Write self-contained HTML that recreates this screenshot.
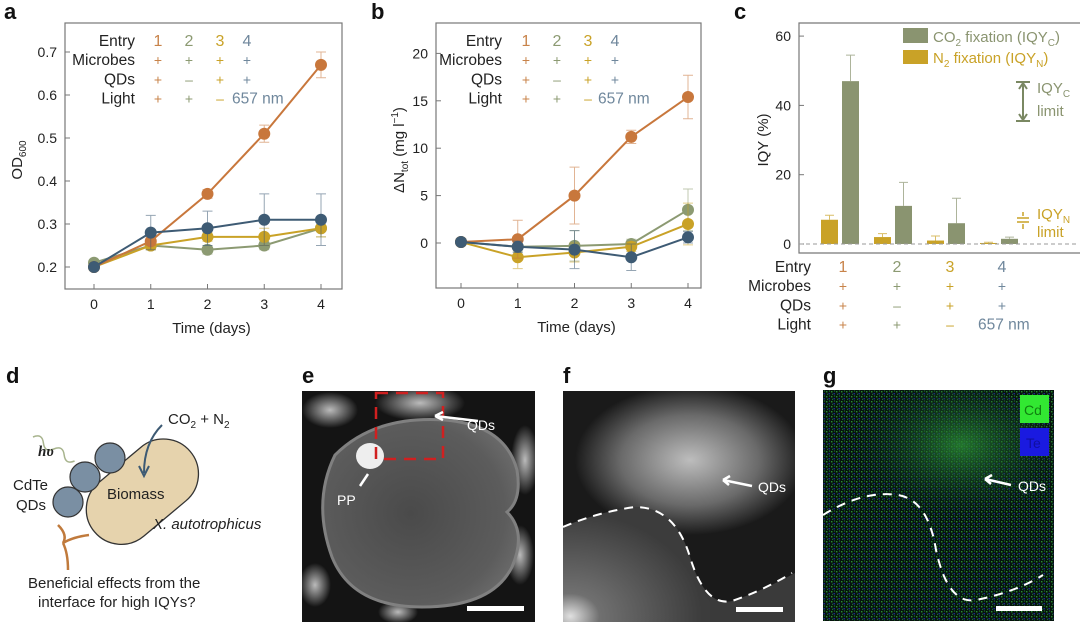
<!DOCTYPE html>
<html><head><meta charset="utf-8"><style>
html,body{margin:0;padding:0;background:#fff;}
svg{display:block;font-family:"Liberation Sans",sans-serif;}
</style></head><body>
<svg id="fig" width="1080" height="623" viewBox="0 0 1080 623" xmlns="http://www.w3.org/2000/svg">
<defs>
<clipPath id="clipE"><rect x="302" y="391" width="233" height="231"/></clipPath>
<clipPath id="clipF"><rect x="563" y="391" width="232" height="231"/></clipPath>
<clipPath id="clipG"><rect x="823" y="390" width="231" height="231"/></clipPath>
<radialGradient id="cellG" cx="0.45" cy="0.5" r="0.6"><stop offset="0" stop-color="#4a4a4a"/><stop offset="0.8" stop-color="#5c5c5c"/><stop offset="1" stop-color="#6a6a6a"/></radialGradient>
<radialGradient id="cloudF" cx="0.5" cy="0.5" r="0.5"><stop offset="0" stop-color="#bdbdbd"/><stop offset="0.6" stop-color="#6a6a6a"/><stop offset="1" stop-color="#1a1a1a"/></radialGradient>
<radialGradient id="cellF" cx="0.05" cy="0.95" r="0.9"><stop offset="0" stop-color="#e0e0e0"/><stop offset="0.22" stop-color="#707070"/><stop offset="1" stop-color="#3c3c3c"/></radialGradient>
<radialGradient id="greenG" cx="0.55" cy="0.4" r="0.5"><stop offset="0" stop-color="#2a8a34" stop-opacity="0.8"/><stop offset="1" stop-color="#0c2a22" stop-opacity="0"/></radialGradient>
<radialGradient id="flake" cx="0.5" cy="0.5" r="0.5"><stop offset="0" stop-color="#bbb"/><stop offset="1" stop-color="#141414"/></radialGradient>
<pattern id="noise" width="5" height="5" patternUnits="userSpaceOnUse"><rect x="1" y="1" width="1.4" height="1.4" fill="#38c040"/><rect x="3.5" y="3" width="1.4" height="1.4" fill="#2a3ad0"/><rect x="2" y="3.8" width="1" height="1" fill="#2db040"/><rect x="4" y="0.5" width="1" height="1" fill="#30b838"/></pattern>
</defs>

<g font-weight="bold" font-size="22" fill="#111">
<text x="4" y="19">a</text>
<text x="371" y="19">b</text>
<text x="734" y="19">c</text>
<text x="6" y="383">d</text>
<text x="302" y="383">e</text>
<text x="563" y="383">f</text>
<text x="823" y="383">g</text>
</g>

<g id="pa"></g>
<g id="pb"></g>
<g id="pc"></g>

<g>
<path d="M33,437 q6,-8 12,0 t12,0 t12,0 t12,0" transform="rotate(30 33 437)" fill="none" stroke="#a8b48e" stroke-width="1.5"/>
<rect x="80" y="457" width="125" height="70" rx="35" fill="#e6d3ad" stroke="#333" stroke-width="1.3" transform="rotate(-40 142 492)"/>
<circle cx="68" cy="502" r="15" fill="#7a8fa3" stroke="#333" stroke-width="1.2"/>
<circle cx="85" cy="477" r="15" fill="#7a8fa3" stroke="#333" stroke-width="1.2"/>
<circle cx="110" cy="458" r="15" fill="#7a8fa3" stroke="#333" stroke-width="1.2"/>
<path d="M162,425 q-18,18 -18,48" fill="none" stroke="#3d5a73" stroke-width="2"/>
<path d="M139,466 l5,10 l5,-10" fill="none" stroke="#3d5a73" stroke-width="2"/>
<path d="M58,525 q10,10 5,18 q10,-6 26,-8 M63,543 q5,10 5,27" fill="none" stroke="#c07a3c" stroke-width="2.5"/>
<g font-size="15" fill="#222">
<text x="168" y="424">CO<tspan font-size="10" dy="4">2</tspan><tspan dy="-4"> + N</tspan><tspan font-size="10" dy="4">2</tspan></text>
<text x="38" y="456" font-style="italic" font-family="Liberation Serif,serif" font-weight="bold">hυ</text>
<text x="13" y="490">CdTe</text><text x="16" y="510">QDs</text>
<text x="107" y="499">Biomass</text>
<text x="153" y="529" font-style="italic">X. autotrophicus</text>
<text x="28" y="588">Beneficial effects from the</text>
<text x="38" y="607">interface for high IQYs?</text>
</g>
</g>

<g clip-path="url(#clipE)">
<rect x="302" y="391" width="233" height="231" fill="#141414"/>
<ellipse cx="330" cy="410" rx="28" ry="18" fill="url(#flake)"/>
<ellipse cx="420" cy="403" rx="45" ry="18" fill="url(#flake)"/>
<ellipse cx="525" cy="460" rx="14" ry="35" fill="url(#flake)"/>
<ellipse cx="315" cy="585" rx="16" ry="22" fill="url(#flake)"/>
<ellipse cx="398" cy="612" rx="20" ry="12" fill="url(#flake)"/>
<ellipse cx="520" cy="555" rx="14" ry="30" fill="url(#flake)"/>
<path d="M335,455 q40,-40 110,-35 q60,5 72,50 q5,30 -10,42 q20,20 5,55 q-20,40 -90,40 q-70,0 -90,-50 q-20,-55 3,-102z" fill="url(#cellG)" stroke="#808080" stroke-width="3"/>
<ellipse cx="370" cy="456" rx="14" ry="13" fill="#eee"/>
<rect x="376" y="393" width="67" height="66" fill="none" stroke="#d02020" stroke-width="2.5" stroke-dasharray="12,8"/>
<path d="M478,421 L435,416 M435,416 l8,-4 m-8,4 l8,4" stroke="#fff" stroke-width="2.5" fill="none"/>
<path d="M360,486 L368,474" stroke="#fff" stroke-width="2.5"/>
<text x="467" y="430" font-size="14" fill="#fff">QDs</text>
<text x="337" y="505" font-size="14" fill="#fff">PP</text>
<rect x="467" y="606" width="57" height="5" fill="#fff"/>
</g>

<g clip-path="url(#clipF)">
<rect x="563" y="391" width="232" height="231" fill="#1a1a1a"/>
<ellipse cx="690" cy="460" rx="115" ry="75" fill="url(#cloudF)"/>
<path d="M563,527 q35,-15 72,-20 q40,0 55,50 q15,50 42,44 q30,-10 63,-28 v49 h-232z" fill="#3a3a3a"/>
<path d="M563,527 q35,-15 72,-20 q40,0 55,50 q10,35 20,45 v20 h-147z" fill="url(#cellF)"/>
<path d="M563,527 q35,-15 72,-20 q40,0 55,50 q15,50 42,44 q30,-10 60,-28" fill="none" stroke="#fff" stroke-width="2" stroke-dasharray="9,7"/>
<path d="M752,486 L723,480 M723,480 l7,-4 m-7,4 l6,5" stroke="#fff" stroke-width="2.5" fill="none"/>
<text x="758" y="492" font-size="14" fill="#fff">QDs</text>
<rect x="736" y="607" width="47" height="5" fill="#fff"/>
</g>

<g clip-path="url(#clipG)">
<rect x="823" y="390" width="231" height="231" fill="#06140e"/>
<rect x="823" y="390" width="231" height="231" fill="url(#noise)" opacity="0.7"/>
<ellipse cx="950" cy="460" rx="110" ry="75" fill="url(#greenG)"/>
<rect x="1020" y="395" width="29" height="28" fill="#32e832"/>
<text x="1024" y="415" font-size="14" fill="#108010">Cd</text>
<rect x="1020" y="428" width="29" height="28" fill="#1a1ae0"/>
<text x="1026" y="448" font-size="14" fill="#1010a0">Te</text>
<path d="M823,515 q40,-25 75,-20 q30,5 38,55 q12,55 40,50 q40,-8 67,-25" fill="none" stroke="#fff" stroke-width="2" stroke-dasharray="9,7"/>
<path d="M1011,485 L985,479 M985,479 l7,-4 m-7,4 l6,5" stroke="#fff" stroke-width="2.5" fill="none"/>
<text x="1018" y="491" font-size="14" fill="#fff">QDs</text>
<rect x="996" y="606" width="46" height="5" fill="#fff"/>
</g>
</svg>
<script>
const days = [0, 1, 2, 3, 4];
const odE1 = [0.20, 0.26, 0.37, 0.51, 0.67];
const odE2 = [0.21, 0.25, 0.24, 0.25, 0.29];
const odE3 = [0.20, 0.25, 0.27, 0.27, 0.29];
const odE4 = [0.20, 0.28, 0.29, 0.31, 0.31];
const odErr1 = [0.005, 0.01, 0.01, 0.02, 0.03];
const odErr2 = [0.005, 0.01, 0.01, 0.01, 0.02];
const odErr3 = [0.005, 0.01, 0.01, 0.02, 0.02];
const odErr4 = [0.005, 0.04, 0.04, 0.06, 0.06];
const odTicks = [0.2, 0.3, 0.4, 0.5, 0.6, 0.7];
const nE1 = [0.1, 0.4, 5.0, 11.2, 15.4];
const nE2 = [0.1, -0.4, -0.3, -0.1, 3.5];
const nE3 = [0.1, -1.5, -1.0, -0.4, 2.0];
const nE4 = [0.1, -0.4, -0.7, -1.5, 0.6];
const nErr1 = [0, 2.0, 3.0, 0.7, 2.3];
const nErr2 = [0, 0.5, 1.6, 0.5, 2.2];
const nErr3 = [0, 1.2, 1.0, 0.5, 2.2];
const nErr4 = [0, 0.6, 2.0, 1.4, 0.6];
const nTicks = [0, 5, 10, 15, 20];
const entries = ['1', '2', '3', '4'];
const iqyN = [7, 2, 1, 0.3];
const iqyNErr = [1.3, 1.0, 1.3, 0.2];
const iqyC = [47, 11, 6, 1.5];
const iqyCErr = [7.5, 6.8, 7.2, 0.5];
const iqyTicks = [0, 20, 40, 60];

const COL = ['#c8773c', '#8c9a72', '#c9a227', '#3e5b74'];
const LCOL = ['#c8834a', '#8c9a72', '#c9a227', '#6f879c'];
const NS = 'http://www.w3.org/2000/svg';
function mk(parent, tag, attrs, txt) {
  const e = document.createElementNS(NS, tag);
  for (const k in attrs) e.setAttribute(k, attrs[k]);
  if (txt !== undefined) e.textContent = txt;
  parent.appendChild(e);
  return e;
}

function legendTable(g, rightX, cols, y0, dy, startNm) {
  const rows = ['Entry', 'Microbes', 'QDs', 'Light'];
  const vals = [entries, ['+', '+', '+', '+'], ['+', '–', '+', '+'], ['+', '+', '–', '']];
  rows.forEach((r, i) => {
    const t = mk(g, 'text', {x: rightX, y: y0 + i * dy, 'text-anchor': 'end', 'font-size': 15.5, fill: '#222'}, r);
    
    
    vals[i].forEach((v, j) => {
      if (v === '') return;
      const s = mk(g, 'text', {x: cols[j], y: y0 + i * dy, 'text-anchor': 'middle', 'font-size': i === 0 ? 16 : 14, fill: LCOL[j]}, v);
      
      
    });
  });
  const nm = mk(g, 'text', {x: startNm, y: y0 + 3 * dy, 'font-size': 15.5, fill: LCOL[3]}, '657 nm');
  
  
}

function lineChart(g, box, xs, ys, tickVals, tickFmt, series, errs) {
  mk(g, 'rect', {x: box.l, y: box.t, width: box.r - box.l, height: box.b - box.t, fill: 'none', stroke: '#777', 'stroke-width': 1.2});
  tickVals.forEach(v => {
    const y = ys(v);
    mk(g, 'line', {x1: box.l, x2: box.l + 5, y1: y, y2: y, stroke: '#777'});
    const t = mk(g, 'text', {x: box.l - 8, y: y + 5, 'text-anchor': 'end', 'font-size': 14, fill: '#222'}, tickFmt(v));
    
    
  });
  days.forEach(d => {
    const x = xs(d);
    mk(g, 'line', {x1: x, x2: x, y1: box.b, y2: box.b - 5, stroke: '#777'});
    const t = mk(g, 'text', {x: x, y: box.b + 20, 'text-anchor': 'middle', 'font-size': 14, fill: '#222'}, String(d));
    
    
  });
  const xt = mk(g, 'text', {x: (box.l + box.r) / 2 + 8, y: box.b + 44, 'text-anchor': 'middle', 'font-size': 15, fill: '#222'}, 'Time (days)');
  
  
  const order = [1, 2, 0, 3];
  order.forEach(si => {
    const vals = series[si], er = errs[si];
    days.forEach((d, i) => {
      const x = xs(d), y1 = ys(vals[i] - er[i]), y2 = ys(vals[i] + er[i]);
      const eb = mk(g, 'path', {d: `M${x},${y1}V${y2}M${x-5},${y1}h10M${x-5},${y2}h10`, stroke: COL[si], 'stroke-width': 1, opacity: 0.55, fill: 'none'});
      
      
    });
    const pts = days.map((d, i) => xs(d) + ',' + ys(vals[i])).join(' ');
    const pl = mk(g, 'polyline', {points: pts, fill: 'none', stroke: COL[si], 'stroke-width': 2});
    
    
    days.forEach((d, i) => {
      const c = mk(g, 'circle', {cx: xs(d), cy: ys(vals[i]), r: 6, fill: COL[si]});
      
      
    });
  });
}

(function () {
  const g = document.getElementById('pa');
  const box = {l: 65, r: 342, t: 23, b: 289};
  const xs = d => 94 + d * 56.75;
  const ys = v => 267 - (v - 0.2) / 0.1 * 43;
  lineChart(g, box, xs, ys, odTicks, v => v.toFixed(1), [odE1, odE2, odE3, odE4], [odErr1, odErr2, odErr3, odErr4]);
  legendTable(g, 135, [158, 189, 220, 247], 46, 19.2, 232);
  const yl = mk(g, 'text', {transform: 'translate(22,160) rotate(-90)', 'text-anchor': 'middle', 'font-size': 15, fill: '#222'});
  yl.innerHTML = 'OD<tspan font-size="10" dy="4">600</tspan>';
  
  
})();

(function () {
  const g = document.getElementById('pb');
  const box = {l: 436, r: 701, t: 23, b: 288};
  const xs = d => 461 + d * 56.75;
  const ys = v => 243 - v / 5 * 47.4;
  lineChart(g, box, xs, ys, nTicks, v => String(v), [nE1, nE2, nE3, nE4], [nErr1, nErr2, nErr3, nErr4]);
  legendTable(g, 502, [526, 557, 588, 615], 46, 19.2, 598);
  const yl = mk(g, 'text', {transform: 'translate(404,150) rotate(-90)', 'text-anchor': 'middle', 'font-size': 15, fill: '#222'});
  yl.innerHTML = 'ΔN<tspan font-size="10" dy="4">tot</tspan><tspan dy="-4"> (mg l</tspan><tspan font-size="10" dy="-6">−1</tspan><tspan dy="6">)</tspan>';
  
  
})();

(function () {
  const g = document.getElementById('pc');
  const ys = v => 244 - v / 20 * 69.3;
  const gx = i => 830 + i * 53;
  mk(g, 'path', {d: 'M1080,23 H799 V253 H1080', fill: 'none', stroke: '#777', 'stroke-width': 1.2});
  iqyTicks.forEach(v => {
    mk(g, 'line', {x1: 799, x2: 804, y1: ys(v), y2: ys(v), stroke: '#777'});
    const t = mk(g, 'text', {x: 791, y: ys(v) + 5, 'text-anchor': 'end', 'font-size': 14, fill: '#222'}, String(v));
    
    
  });
  const yl = mk(g, 'text', {transform: 'translate(768,140) rotate(-90)', 'text-anchor': 'middle', 'font-size': 15, fill: '#222'}, 'IQY (%)');
  
  
  entries.forEach((e, i) => {
    const xN = gx(i) - 9, xC = gx(i) + 12;
    const bN = mk(g, 'rect', {x: xN, y: ys(iqyN[i]), width: 17, height: ys(0) - ys(iqyN[i]), fill: '#c9a227'});
    
    
    const bC = mk(g, 'rect', {x: xC, y: ys(iqyC[i]), width: 17, height: ys(0) - ys(iqyC[i]), fill: '#8a9470'});
    
    
    const eN = mk(g, 'path', {d: `M${xN+8.5},${ys(iqyN[i])}V${ys(iqyN[i]+iqyNErr[i])}M${xN+4},${ys(iqyN[i]+iqyNErr[i])}h9`, stroke: '#c9a227', fill: 'none', opacity: 0.7});
    
    
    const eC = mk(g, 'path', {d: `M${xC+8.5},${ys(iqyC[i])}V${ys(iqyC[i]+iqyCErr[i])}M${xC+4},${ys(iqyC[i]+iqyCErr[i])}h9`, stroke: '#8a9470', fill: 'none', opacity: 0.7});
    
    
  });
  mk(g, 'line', {x1: 799, x2: 1078, y1: ys(0), y2: ys(0), stroke: '#999', 'stroke-dasharray': '4,3'});
  mk(g, 'rect', {x: 903, y: 28, width: 25, height: 15, fill: '#8a9470'});
  const l1 = mk(g, 'text', {x: 933, y: 42, 'font-size': 15, fill: '#8a9470'});
  l1.innerHTML = 'CO<tspan font-size="10" dy="4">2</tspan><tspan dy="-4"> fixation (IQY</tspan><tspan font-size="10" dy="4">C</tspan><tspan dy="-4">)</tspan>';
  
  
  mk(g, 'rect', {x: 903, y: 50, width: 25, height: 14, fill: '#c9a227'});
  const l2 = mk(g, 'text', {x: 933, y: 63, 'font-size': 15, fill: '#c9a227'});
  l2.innerHTML = 'N<tspan font-size="10" dy="4">2</tspan><tspan dy="-4"> fixation (IQY</tspan><tspan font-size="10" dy="4">N</tspan><tspan dy="-4">)</tspan>';
  
  
  mk(g, 'path', {d: 'M1016,82h14M1016,121h14M1023,84V119M1019,89l4,-6l4,6M1019,114l4,6l4,-6', stroke: '#7a8862', 'stroke-width': 2, fill: 'none'});
  const c1 = mk(g, 'text', {x: 1037, y: 93, 'font-size': 15, fill: '#8a9470'});
  c1.innerHTML = 'IQY<tspan font-size="10" dy="4">C</tspan>';
  
  
  mk(g, 'text', {x: 1037, y: 116, 'font-size': 15, fill: '#8a9470'}, 'limit');
  mk(g, 'path', {d: 'M1017,218h12M1017,222h12M1023,212v4M1023,224v5', stroke: '#c9a227', 'stroke-width': 1.5, fill: 'none'});
  const c2 = mk(g, 'text', {x: 1037, y: 219, 'font-size': 15, fill: '#c9a227'});
  c2.innerHTML = 'IQY<tspan font-size="10" dy="4">N</tspan>';
  
  
  mk(g, 'text', {x: 1037, y: 237, 'font-size': 15, fill: '#c9a227'}, 'limit');
  legendTable(g, 811, [843, 897, 950, 1002], 272, 19.2, 978);
})();
</script>
</body></html>
